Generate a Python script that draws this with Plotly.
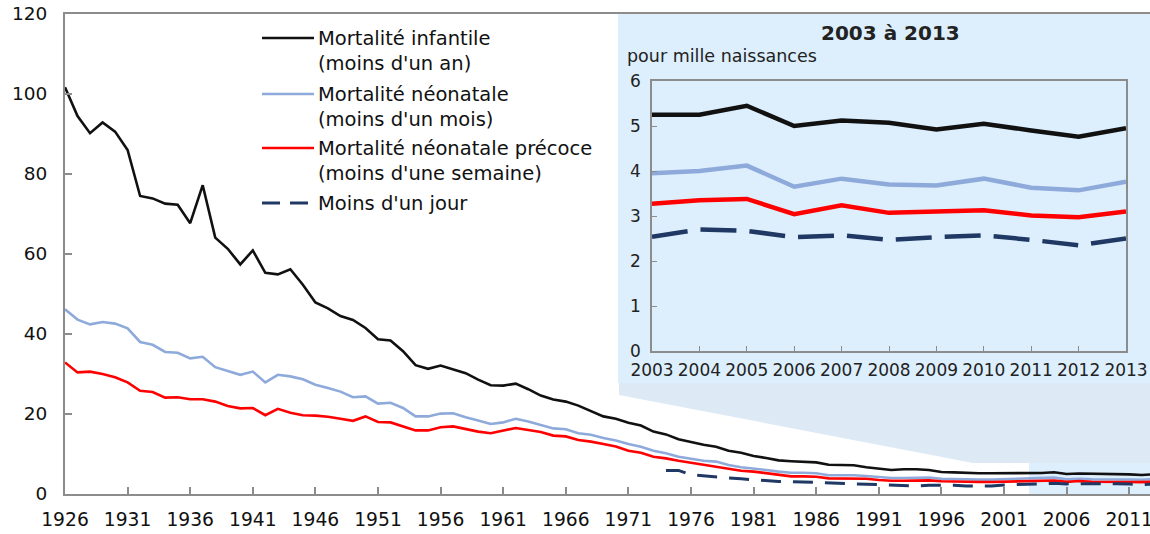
import plotly.graph_objects as go

# ---------------- data (per 1000 births) ----------------
years = list(range(1926, 2014))

infant = [101.7, 94.5, 90.2, 92.9, 90.6, 86.0, 74.5, 73.9, 72.6, 72.3,
          67.7, 77.2, 64.1, 61.3, 57.4, 60.9, 55.3, 54.9, 56.2, 52.3,
          47.9, 46.4, 44.5, 43.5, 41.5, 38.7, 38.4, 35.7, 32.2, 31.3,
          32.1, 31.2, 30.2, 28.6, 27.2, 27.1, 27.6, 26.2, 24.6, 23.6,
          23.1, 22.1, 20.8, 19.4, 18.8, 17.8, 17.1, 15.6, 14.9, 13.7,
          13.0, 12.3, 11.8, 10.8, 10.3, 9.5, 9.0, 8.4, 8.2, 8.0,
          7.9, 7.3, 7.25, 7.2, 6.7, 6.3, 6.0, 6.2, 6.2, 6.0,
          5.5, 5.4, 5.25, 5.2, 5.2, 5.2, 5.3,
          5.25, 5.25, 5.45, 5.0, 5.12, 5.07, 4.92, 5.05, 4.9, 4.76, 4.95]

neonatal = [46.2, 43.6, 42.4, 43.0, 42.6, 41.4, 38.0, 37.3, 35.5, 35.3,
            33.9, 34.3, 31.7, 30.8, 29.8, 30.6, 27.9, 29.8, 29.4, 28.7,
            27.3, 26.5, 25.6, 24.2, 24.4, 22.6, 22.8, 21.5, 19.4, 19.4,
            20.1, 20.2, 19.2, 18.4, 17.5, 17.9, 18.8, 18.1, 17.3, 16.4,
            16.2, 15.2, 14.8, 14.0, 13.4, 12.5, 11.8, 10.8, 10.2, 9.3,
            8.8, 8.3, 8.1, 7.25, 6.7, 6.4, 6.0, 5.6, 5.3, 5.3,
            5.2, 4.7, 4.7, 4.7, 4.5, 4.2, 4.0, 4.0, 4.1, 4.1,
            3.8, 3.7, 3.6, 3.6, 3.6, 3.7, 3.8,
            3.95, 4.0, 4.12, 3.65, 3.83, 3.7, 3.68, 3.83, 3.63, 3.57, 3.76]

early_neonatal = [32.9, 30.4, 30.6, 30.0, 29.2, 27.9, 25.8, 25.5, 24.1, 24.2,
                  23.7, 23.7, 23.1, 22.0, 21.4, 21.5, 19.7, 21.3, 20.3, 19.7,
                  19.6, 19.3, 18.8, 18.3, 19.4, 18.0, 17.9, 16.9, 15.9, 15.9,
                  16.7, 16.9, 16.2, 15.6, 15.2, 15.8, 16.5, 16.0, 15.5, 14.6,
                  14.4, 13.5, 13.1, 12.5, 11.9, 10.8, 10.3, 9.3, 8.9, 8.3,
                  7.8, 7.25, 6.9, 6.3, 5.8, 5.6, 5.2, 4.75, 4.4, 4.4,
                  4.3, 3.9, 3.9, 3.9, 3.8, 3.5, 3.3, 3.3, 3.4, 3.4,
                  3.2, 3.1, 3.0, 3.0, 3.0, 3.1, 3.2,
                  3.27, 3.35, 3.38, 3.04, 3.24, 3.07, 3.1, 3.13, 3.01, 2.97, 3.1]

first_day_years = list(range(1974, 2014))
first_day = [5.9, 5.9, 4.8, 4.5, 4.25, 4.0, 3.8, 3.6, 3.3, 3.1,
             3.1, 3.0, 2.9, 2.8, 2.6, 2.6, 2.5, 2.25, 2.2, 2.2,
             2.0, 2.2, 2.25, 2.2, 2.0, 2.0, 2.0, 2.25, 2.4,
             2.54, 2.7, 2.67, 2.53, 2.57, 2.47, 2.53, 2.57, 2.47, 2.35, 2.5]

series_names = ["Mortalité infantile<br>(moins d'un an)",
                "Mortalité néonatale<br>(moins d'un mois)",
                "Mortalité néonatale précoce<br>(moins d'une semaine)",
                "Moins d'un jour"]
inset_title = "<b>2003 à 2013</b>"
inset_unit = "pour mille naissances"
inset_start = 2003

# ---------------- styles ----------------
C_BLACK = "#111111"
C_BLUE = "#8eaadb"
C_RED = "#ff0000"
C_NAVY = "#1f3864"
C_AXIS = "#8c8c8c"
BG_INSET = "#ddeffd"
BG_CALLOUT = "#dde9f5"
FONT = "DejaVu Sans"

W, H = 1150, 534
ML, MR, MT, MB = 65, 0, 14, 40
PW, PH = W - ML - MR, H - MT - MB


def px(xp):
    return (xp - ML) / PW


def py(yp):
    return (H - MB - yp) / PH


fig = go.Figure()

colors = [C_BLACK, C_BLUE, C_RED, C_NAVY]
main_series = [(years, infant), (years, neonatal), (years, early_neonatal),
               (first_day_years, first_day)]

for i, ((xs, ys), col) in enumerate(zip(main_series, colors)):
    dash = "20px,12px" if i == 3 else "solid"
    fig.add_trace(go.Scatter(x=xs, y=ys, mode="lines", showlegend=False,
                             line=dict(color=col, width=2.6 if i < 3 else 3, dash=dash),
                             xaxis="x", yaxis="y", hoverinfo="skip"))

# inset: same series, 2003-2013
for i, ((xs, ys), col) in enumerate(zip(main_series, colors)):
    sx = [x for x in xs if x >= inset_start]
    sy = [y for x, y in zip(xs, ys) if x >= inset_start]
    dash = "36px,13px" if i == 3 else "solid"
    fig.add_trace(go.Scatter(x=sx, y=sy, mode="lines", showlegend=False,
                             line=dict(color=col, width=4.5, dash=dash),
                             xaxis="x2", yaxis="y2", hoverinfo="skip"))

shapes = []
# inset background
shapes.append(dict(type="rect", xref="paper", yref="paper", layer="below",
                   x0=px(618), x1=1.0, y0=py(383), y1=1.0,
                   fillcolor=BG_INSET, line=dict(width=0)))
# callout band
shapes.append(dict(type="path", xref="paper", yref="paper", layer="below",
                   path=f"M{px(619)},{py(383)} L{px(619)},{py(395)} L{px(973)},{py(463)} "
                        f"L1,{py(463)} L1,{py(383)} Z",
                   fillcolor=BG_CALLOUT, line=dict(width=0)))
# highlighted zone in main chart
shapes.append(dict(type="rect", xref="x", yref="y", layer="below",
                   x0=inset_start, x1=2014, y0=0, y1=7.75,
                   fillcolor=BG_INSET, line=dict(width=0)))

# manual legend
leg_rows = [38, 94, 148, 203]
leg_text_y = [50.5, 107, 161.5, 203]
annotations = []
for i, (col, ry, ty, name) in enumerate(zip(colors, leg_rows, leg_text_y, series_names)):
    shapes.append(dict(type="line", xref="paper", yref="paper",
                       x0=px(262), x1=px(314), y0=py(ry), y1=py(ry),
                       line=dict(color=col, width=2.6 if i < 3 else 3,
                                 dash="18px,10px" if i == 3 else "solid")))
    annotations.append(dict(xref="paper", yref="paper", x=px(316), y=py(ty),
                            xanchor="left", yanchor="middle", align="left",
                            text=name, showarrow=False,
                            font=dict(family=FONT, size=19.5, color="#111111")))

annotations.append(dict(xref="paper", yref="paper", x=px(890), y=py(33),
                        xanchor="center", yanchor="middle", text=inset_title,
                        showarrow=False, font=dict(family=FONT, size=20, color="#222222")))
annotations.append(dict(xref="paper", yref="paper", x=px(625), y=py(56),
                        xanchor="left", yanchor="middle", text=inset_unit,
                        showarrow=False, font=dict(family=FONT, size=17.5, color="#222222")))

fig.update_layout(
    width=W, height=H, autosize=False,
    margin=dict(l=ML, r=MR, t=MT, b=MB, pad=0, autoexpand=False),
    paper_bgcolor="white", plot_bgcolor="rgba(0,0,0,0)",
    font=dict(family=FONT, size=18, color="#111111"),
    showlegend=False,
    shapes=shapes, annotations=annotations,
    xaxis=dict(domain=[0, 1], range=[1926, 1926 + PW / 12.52], tick0=1926, dtick=5,
               ticks="inside", ticklen=7, tickwidth=1.5, tickcolor=C_AXIS,
               showline=True, linecolor=C_AXIS, linewidth=2, mirror=True,
               showgrid=False, zeroline=False, ticklabelstandoff=8, automargin=False,
               ticklabeloverflow="allow",
               tickfont=dict(family=FONT, size=18.7, color="#111111")),
    yaxis=dict(domain=[0, 1], range=[0, 120], tick0=0, dtick=20,
               ticks="inside", ticklen=7, tickwidth=1.5, tickcolor=C_AXIS,
               showline=True, linecolor=C_AXIS, linewidth=2, automargin=False,
               showgrid=False, zeroline=False, ticklabelstandoff=12,
               ticklabeloverflow="allow",
               tickfont=dict(family=FONT, size=18.5, color="#111111")),
    xaxis2=dict(domain=[px(652), px(1126)], anchor="y2", range=[2003, 2013],
                tick0=2003, dtick=1, ticks="inside", ticklen=5, tickwidth=1.2,
                tickcolor=C_AXIS, showline=True, linecolor=C_AXIS, linewidth=1.5,
                mirror=True, showgrid=False, zeroline=False, ticklabelstandoff=3,
                automargin=False, ticklabeloverflow="allow",
                tickfont=dict(family=FONT, size=17, color="#222222")),
    yaxis2=dict(domain=[py(351), py(81)], anchor="x2", range=[0, 6],
                tick0=0, dtick=1, ticks="inside", ticklen=5, tickwidth=1.2,
                tickcolor=C_AXIS, showline=True, linecolor=C_AXIS, linewidth=1.5,
                mirror=True, showgrid=False, zeroline=False, ticklabelstandoff=6,
                automargin=False, ticklabeloverflow="allow",
                tickfont=dict(family=FONT, size=17, color="#222222")),
)

fig.write_html(
    "out.html",
    config={"displayModeBar": False, "responsive": False},
    post_script="document.body.style.margin='0';document.body.style.overflow='hidden';",
)
